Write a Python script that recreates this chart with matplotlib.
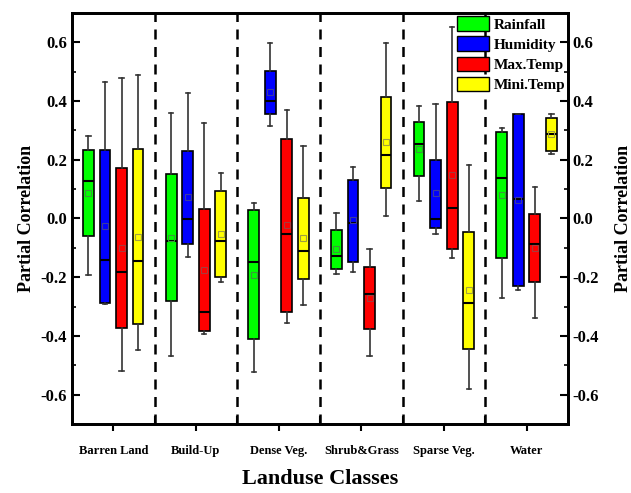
import matplotlib
matplotlib.use("Agg")
import matplotlib.pyplot as plt
import matplotlib.patches as mpatches
import numpy as np

plt.rcParams['font.family'] = ['Liberation Serif', 'DejaVu Serif']
plt.rcParams['font.weight'] = 'bold'

classes = ["Barren Land", "Build-Up", "Dense Veg.", "Shrub&Grass", "Sparse Veg.", "Water"]
variables = ["Rainfall", "Humidity", "Max.Temp", "Mini.Temp"]
colors = ["#00ff00", "#0000ff", "#ff0000", "#ffff00"]
mean_colors = ["#3a9a3a", "#3a3aa0", "#a83a3a", "#a0a040"]

# per class: rows = Rainfall, Humidity, Max.Temp, Mini.Temp
# columns = whisker low, q1, median, q3, whisker high, mean
barren = [[-0.193, -0.060, 0.129, 0.232, 0.279, 0.086],
          [-0.290, -0.287, -0.140, 0.232, 0.465, -0.026],
          [-0.518, -0.374, -0.183, 0.171, 0.479, -0.100],
          [-0.447, -0.358, -0.146, 0.235, 0.488, -0.062]]
buildup = [[-0.469, -0.281, -0.077, 0.150, 0.360, -0.066],
           [-0.133, -0.086, -0.001, 0.231, 0.426, 0.072],
           [-0.393, -0.382, -0.318, 0.031, 0.325, -0.175],
           [-0.216, -0.198, -0.077, 0.092, 0.156, -0.053]]
dense = [[-0.522, -0.410, -0.150, 0.027, 0.054, -0.192],
         [0.316, 0.355, 0.399, 0.502, 0.598, 0.429],
         [-0.356, -0.318, -0.053, 0.271, 0.369, -0.023],
         [-0.295, -0.208, -0.111, 0.069, 0.245, -0.068]]
shrub = [[-0.190, -0.171, -0.127, -0.041, 0.019, -0.105],
         [-0.181, -0.150, -0.014, 0.132, 0.174, -0.006],
         [-0.468, -0.377, -0.257, -0.167, -0.105, -0.271],
         [0.007, 0.102, 0.216, 0.415, 0.598, 0.259]]
sparse = [[0.060, 0.143, 0.252, 0.328, 0.383, 0.237],
          [-0.053, -0.033, -0.002, 0.199, 0.391, 0.085],
          [-0.136, -0.104, 0.035, 0.397, 0.652, 0.147],
          [-0.580, -0.443, -0.289, -0.045, 0.182, -0.244]]
water = [[-0.271, -0.136, 0.137, 0.294, 0.307, 0.079],
         [-0.244, -0.231, 0.067, 0.354, 0.356, 0.061],
         [-0.338, -0.218, -0.086, 0.016, 0.107, -0.101],
         [0.218, 0.230, 0.286, 0.342, 0.354, 0.286]]
data = [barren, buildup, dense, shrub, sparse, water]

offsets = [-0.3, -0.1, 0.1, 0.3]
box_w = 0.13

fig = plt.figure(figsize=(6.31, 4.93), dpi=100)
ax = fig.add_axes([0.114, 0.140, 0.786, 0.834])

for v in range(4):
    stats = []
    pos = []
    for c in range(6):
        lo, q1, med, q3, hi, mn = data[c][v]
        stats.append(dict(whislo=lo, q1=q1, med=med, q3=q3, whishi=hi, mean=mn))
        pos.append(c + 1 + offsets[v])
    ax.bxp(stats, positions=pos, widths=box_w, patch_artist=True, showmeans=True,
           showfliers=False,
           boxprops=dict(facecolor=colors[v], edgecolor='black', linewidth=1.2),
           medianprops=dict(color='black', linewidth=1.5),
           whiskerprops=dict(color='#333333', linewidth=1.2),
           capprops=dict(color='#333333', linewidth=1.2),
           capwidths=box_w * 0.4,
           meanprops=dict(marker='s', markersize=4, markerfacecolor='none',
                          markeredgecolor=mean_colors[v], markeredgewidth=0.8))

for b in np.arange(1.5, 6.5, 1.0):
    ax.axvline(b, color='black', linestyle=(0, (4, 3)), linewidth=1.8, zorder=0)

ax.set_xlim(0.5, 6.5)
ax.set_ylim(-0.7, 0.7)
ax.set_xticks(np.arange(1, 7))
ax.set_xticklabels(classes, fontsize=9, fontweight='bold')
ax.set_xticks(np.arange(1.5, 6.5, 1.0), minor=True)
ax.tick_params(axis='x', which='major', direction='out', length=5, width=1.5, pad=10)
ax.tick_params(axis='x', which='minor', direction='in', length=6, width=1.5)

yticks = [-0.6, -0.4, -0.2, 0.0, 0.2, 0.4, 0.6]
ax.set_yticks(yticks)
ax.set_yticklabels(["%.1f" % t for t in yticks], fontsize=12, fontweight='bold')
ax.set_yticks(np.arange(-0.7, 0.71, 0.1), minor=True)
ax.tick_params(axis='y', which='major', direction='in', length=6, width=1.5)
ax.tick_params(axis='y', which='minor', direction='in', length=3, width=1.2)
ax.set_ylabel("Partial Correlation", fontsize=13, fontweight='bold')
ax.set_xlabel("Landuse Classes", fontsize=16, fontweight='bold', labelpad=9)

ax2 = ax.twinx()
ax2.set_ylim(-0.7, 0.7)
ax2.set_yticks(yticks)
ax2.set_yticklabels(["%.1f" % t for t in yticks], fontsize=12, fontweight='bold')
ax2.set_yticks(np.arange(-0.7, 0.71, 0.1), minor=True)
ax2.tick_params(axis='y', which='major', direction='in', length=6, width=1.5)
ax2.tick_params(axis='y', which='minor', direction='in', length=3, width=1.2)
ax2.set_ylabel("Partial Correlation", fontsize=13, fontweight='bold', rotation=90, labelpad=11)

for a in (ax, ax2):
    for s in a.spines.values():
        s.set_linewidth(2)

handles = [mpatches.Patch(facecolor=colors[i], edgecolor='black', label=variables[i])
           for i in range(4)]
ax.legend(handles=handles, loc='upper right', bbox_to_anchor=(1.0, 0.997),
          frameon=False, prop=dict(size=11, weight='bold'),
          handlelength=2.1, handleheight=1.1, handletextpad=0.3, labelspacing=0.3,
          borderpad=0.15, borderaxespad=0.0)

fig.savefig("out.png", dpi=100)
